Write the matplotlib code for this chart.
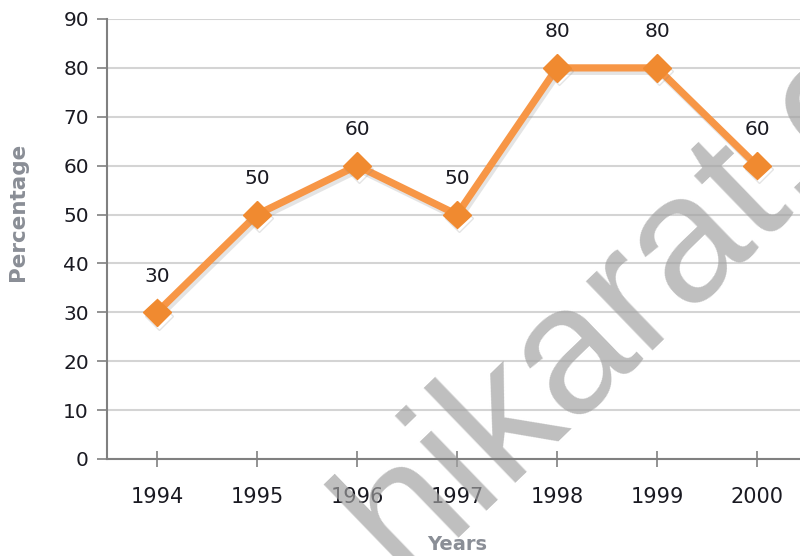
import matplotlib
matplotlib.use("Agg")
import matplotlib.pyplot as plt
import matplotlib.patheffects as pe

years = ["1994", "1995", "1996", "1997", "1998", "1999", "2000"]
percentage = [30, 50, 60, 50, 80, 80, 60]
y_ticks = [0, 10, 20, 30, 40, 50, 60, 70, 80, 90]

fig = plt.figure(figsize=(8.0, 5.56), dpi=100)
W, H = 800, 556
ax = fig.add_axes([107 / W, (H - 459) / H, 700 / W, 440 / H])

x = list(range(len(years)))
line_color = "#F79646"
ax.plot(x, percentage, color=line_color, lw=5.2, solid_joinstyle="miter", zorder=3,
        marker="D", markersize=14, markerfacecolor="#F08A30", markeredgecolor="#F08A30",
        path_effects=[pe.SimpleLineShadow(offset=(1.5, -2.5), shadow_color="#888888", alpha=0.22),
                      pe.Normal()])

for xi, v in zip(x, percentage):
    ax.annotate(str(v), (xi, v), xytext=(0, 26), textcoords="offset points",
                ha="center", va="center", fontsize=14.5, color="#1a1a22", zorder=4)

ax.set_xlim(-0.5, 6.5)
ax.set_ylim(0, 90)
ax.set_yticks(y_ticks)
ax.set_xticks(x)
ax.set_xticklabels(years)
ax.tick_params(axis="y", direction="out", length=7, width=1.2, color="#808080",
               labelsize=14.5, labelcolor="#1a1a22", pad=6)
ax.tick_params(axis="x", direction="inout", length=12, width=1.2, color="#808080",
               labelsize=15, labelcolor="#1a1a22", pad=14)
ax.grid(axis="y", color="#d4d4d4", lw=1.5, zorder=0)
ax.set_axisbelow(True)
for s in ["top", "right"]:
    ax.spines[s].set_visible(False)
for s in ["left", "bottom"]:
    ax.spines[s].set_color("#808080")
    ax.spines[s].set_linewidth(1.5)

fig.text(18 / W, 1 - 212 / H, "Percentage", rotation=90, ha="center", va="center",
         fontsize=15.5, fontweight="bold", color="#8a8e96")
fig.text(457 / W, 1 - 545 / H, "Years", ha="center", va="center",
         fontsize=14, fontweight="bold", color="#8a8e96")

# watermark (between the grid and the line)
ax.text(403 / W, 1 - 580 / H, "hikarat.c", transform=fig.transFigure, clip_on=False,
        rotation=44, rotation_mode="anchor", ha="left", va="baseline",
        fontsize=130, family="Liberation Sans", color="#a0a0a0", alpha=0.68, zorder=2)

fig.savefig("out.png", dpi=100)
